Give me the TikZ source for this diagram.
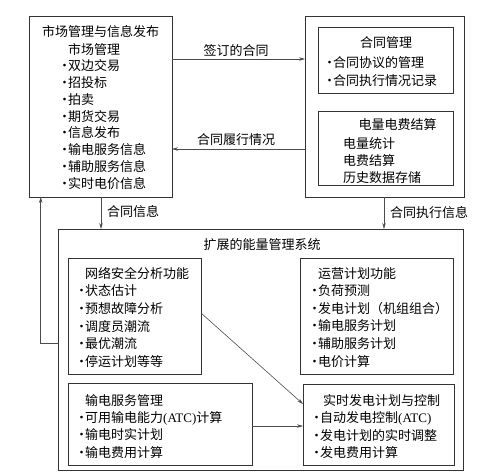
\documentclass[tikz,border=0pt]{standalone}
\usepackage{fontspec}
\setmainfont{Noto Sans CJK SC}
\newfontfamily\latf{Liberation Serif}
\usetikzlibrary{arrows.meta}
\newcommand\bl{\makebox[10pt][l]{•}}
\newcommand\nb{\hspace*{10pt}}
\tikzset{
  box/.style={draw=black!80, line width=0.8pt, inner sep=0pt, outer sep=0pt, anchor=north west},
  txt/.style={inner sep=0pt, align=left, anchor=north west, font=\fontsize{13}{17.4}\selectfont},
  ttl/.style={inner sep=0pt, anchor=center, font=\fontsize{13}{17.4}\selectfont},
  arr/.style={draw=black!70, line width=0.6pt, -{Stealth[length=6pt,width=3.5pt]}},
  ln/.style={draw=black!70, line width=0.6pt}
}
\begin{document}
\begin{tikzpicture}[x=1pt,y=-1pt]
\useasboundingbox (0,0) rectangle (497,472);
% boxes
\node[box, minimum width=143pt, minimum height=181pt] (L) at (29,16) {};
\node[box, minimum width=159pt, minimum height=181pt] (R) at (305,16) {};
\node[box, minimum width=135pt, minimum height=66pt] (R1) at (318,27) {};
\node[box, minimum width=135pt, minimum height=74pt] (R2) at (318,111) {};
\node[box, minimum width=405pt, minimum height=241pt] (B) at (58,229) {};
\node[box, minimum width=133pt, minimum height=116pt] (N) at (68,258) {};
\node[box, minimum width=184pt, minimum height=82pt] (T) at (68,383) {};
\node[box, minimum width=153pt, minimum height=116pt] (Y) at (300,258) {};
\node[box, minimum width=151pt, minimum height=81pt] (S) at (303,384) {};
% texts
\node[ttl] (Lt) at (100.5,32) {市场管理与信息发布};
\node[txt, font=\fontsize{13}{16.75}\selectfont] (Ll) at (58,43) {\nb 市场管理\\\bl 双边交易\\\bl 招投标\\\bl 拍卖\\\bl 期货交易\\\bl 信息发布\\\bl 输电服务信息\\\bl 辅助服务信息\\\bl 实时电价信息};
\node[ttl] (R1t) at (386,43) {合同管理};
\node[txt, font=\fontsize{13}{18}\selectfont] (R1l) at (323,56) {\bl 合同协议的管理\\\bl 合同执行情况记录};
\node[ttl] (R2t) at (397.5,125) {电量电费结算};
\node[txt, font=\fontsize{13}{17}\selectfont] (R2l) at (343,137) {电量统计\\电费结算\\历史数据存储};
\node[ttl] (Bt) at (262,245) {扩展的能量管理系统};
\node[txt, font=\fontsize{13}{17.6}\selectfont] (Nl) at (75,267) {\nb 网络安全分析功能\\\bl 状态估计\\\bl 预想故障分析\\\bl 调度员潮流\\\bl 最优潮流\\\bl 停运计划等等};
\node[txt, font=\fontsize{13}{17.4}\selectfont] (Tl) at (75,394) {\nb 输电服务管理\\\bl 可用输电能力{\latf (ATC)}计算\\\bl 输电时实计划\\\bl 输电费用计算};
\node[txt, font=\fontsize{13}{17.6}\selectfont] (Yl) at (308,267) {\nb 运营计划功能\\\bl 负荷预测\\\bl 发电计划（机组组合）\\\bl 输电服务计划\\\bl 辅助服务计划\\\bl 电价计算};
\node[txt, font=\fontsize{13}{17.4}\selectfont] (Sl) at (310,394) {\hspace*{13pt}实时发电计划与控制\\\bl 自动发电控制{\latf (ATC)}\\\bl 发电计划的实时调整\\\bl 发电费用计算};
% arrow labels
\node[ttl] (a1) at (236,51) {签订的合同};
\node[ttl] (a2) at (236,140) {合同履行情况};
\node[ttl] (a3) at (133,212) {合同信息};
\node[ttl] (a4) at (429,213) {合同执行信息};
% connectors
\draw[arr] (L.east |- 0,59) -- (R.west |- 0,59);
\draw[arr] (R.west |- 0,149) -- (L.east |- 0,149);
\draw[arr] (L.south -| 101,0) -- (B.north -| 101,0);
\draw[arr] (R.south -| 384,0) -- (B.north -| 384,0);
\coordinate (fb) at (40.7,343);
\draw[arr] (B.west |- fb) -- (fb) -- (fb |- L.south);
\draw[arr] (N.east |- 0,313) -- (S.west |- 0,404);
\draw[arr] (T.east |- 0,426) -- (S.west |- 0,426);
\end{tikzpicture}
\end{document}
